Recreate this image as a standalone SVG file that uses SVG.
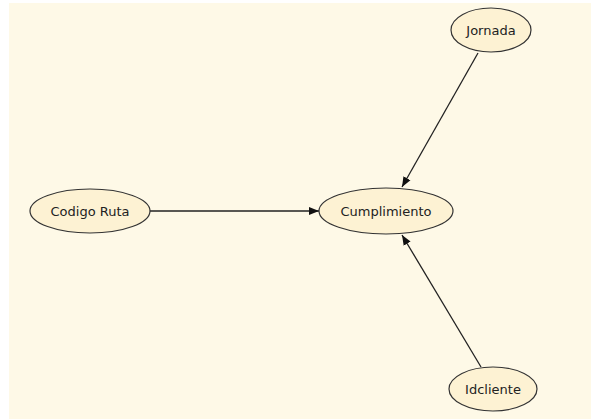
<svg xmlns="http://www.w3.org/2000/svg" width="591" height="419" viewBox="0 0 591 419">
<defs>
<style>
.node ellipse{fill:#fdf2d3;stroke:#333;stroke-width:1.2}
.node text{font-family:"DejaVu Sans",Verdana,sans-serif;font-size:13px;fill:#222;text-anchor:middle;dominant-baseline:central}
.edge{stroke:#222;stroke-width:1.3;fill:none;marker-end:url(#arrow)}
</style>
<marker id="arrow" viewBox="0 0 10 10" refX="10" refY="5" markerWidth="10" markerHeight="10" markerUnits="userSpaceOnUse" orient="auto">
<path d="M0,1 L10,5 L0,9 z" fill="#111"/>
</marker>
</defs>
<rect x="0" y="0" width="591" height="419" fill="#fff"/>
<rect x="9" y="3" width="582" height="416" fill="#fef9e7"/>
<g id="connectors">
<line class="edge" x1="150" y1="211" x2="319" y2="211"/>
<line class="edge" x1="478" y1="53" x2="402" y2="187"/>
<line class="edge" x1="481" y1="367" x2="402" y2="235"/>
</g>
<g id="jornada" class="node"><ellipse cx="491" cy="30" rx="40" ry="22"/><text x="491" y="30">Jornada</text></g>
<g id="codigo-ruta" class="node"><ellipse cx="90" cy="211" rx="60" ry="22"/><text x="90" y="211">Codigo Ruta</text></g>
<g id="cumplimiento" class="node"><ellipse cx="386" cy="211" rx="67" ry="23"/><text x="386" y="211">Cumplimiento</text></g>
<g id="idcliente" class="node"><ellipse cx="493" cy="389" rx="44" ry="22"/><text x="493" y="389">Idcliente</text></g>
</svg>
